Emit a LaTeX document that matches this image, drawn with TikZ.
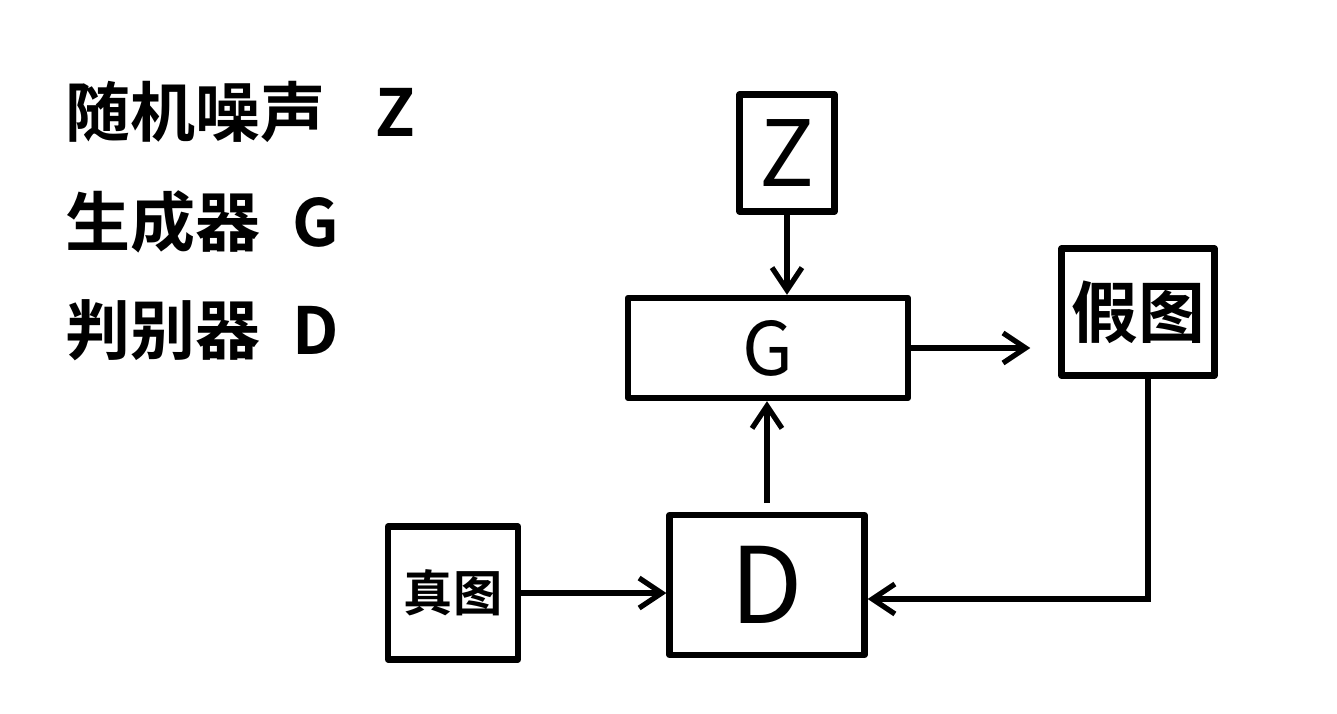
\documentclass[tikz,border=0pt]{standalone}
\usepackage{fontspec}
\setmainfont{Noto Sans CJK SC}[BoldFont={Noto Sans CJK SC Bold}]
\usetikzlibrary{arrows.meta,calc}
\begin{document}
\begin{tikzpicture}[x=0.02cm,y=-0.02cm,
  box/.style={draw,line width=3.6pt,rectangle,inner sep=0pt,line join=round},
  arr/.style={line width=3pt,-{Straight Barb[length=0.45cm,width=0.6cm,line width=3pt]}},
  legend/.style={anchor=west,inner sep=0pt,font=\bfseries\fontsize{37}{40}\selectfont}]
\useasboundingbox (0,0) rectangle (1337,713);
% legend
\node[legend] (l1) at (65,112) {随机噪声\hspace{1.0cm}Z};
\node[legend] (l2) at (65,222) {生成器\hspace{0.65cm}G};
\node[legend] (l3) at (65,330) {判别器\hspace{0.65cm}D};
% boxes
\node[box,minimum width=1.9cm,minimum height=2.34cm,font=\fontsize{52}{52}\selectfont] (Z) at (787,153) {Z};
\node[box,minimum width=5.6cm,minimum height=2cm,font=\fontsize{42}{44}\selectfont] (G) at (768,348) {G};
\node[box,minimum width=3.06cm,minimum height=2.54cm,font=\bfseries\fontsize{38}{40}\selectfont] (F) at (1138,312) {假图};
\node[box,minimum width=2.6cm,minimum height=2.66cm,font=\bfseries\fontsize{28}{30}\selectfont] (R) at (453,593) {真图};
\node[box,minimum width=3.9cm,minimum height=2.8cm,font=\fontsize{60}{60}\selectfont] (D) at (767,585) {D};
% connectors
\draw[arr] (Z.south) -- (Z.south |- G.north);
\draw[arr,shorten <=5pt] (D.north) -- (D.north |- G.south);
\draw[arr,shorten >=16pt] (G.east) -- (G.east -| F.west);
\draw[arr] (R.east) -- (R.east -| D.west);
\coordinate (fb) at ($(D.east)+(0,14)$);
\draw[arr] ($(F.south)+(10,0)$) |- (fb);
\end{tikzpicture}
\end{document}
